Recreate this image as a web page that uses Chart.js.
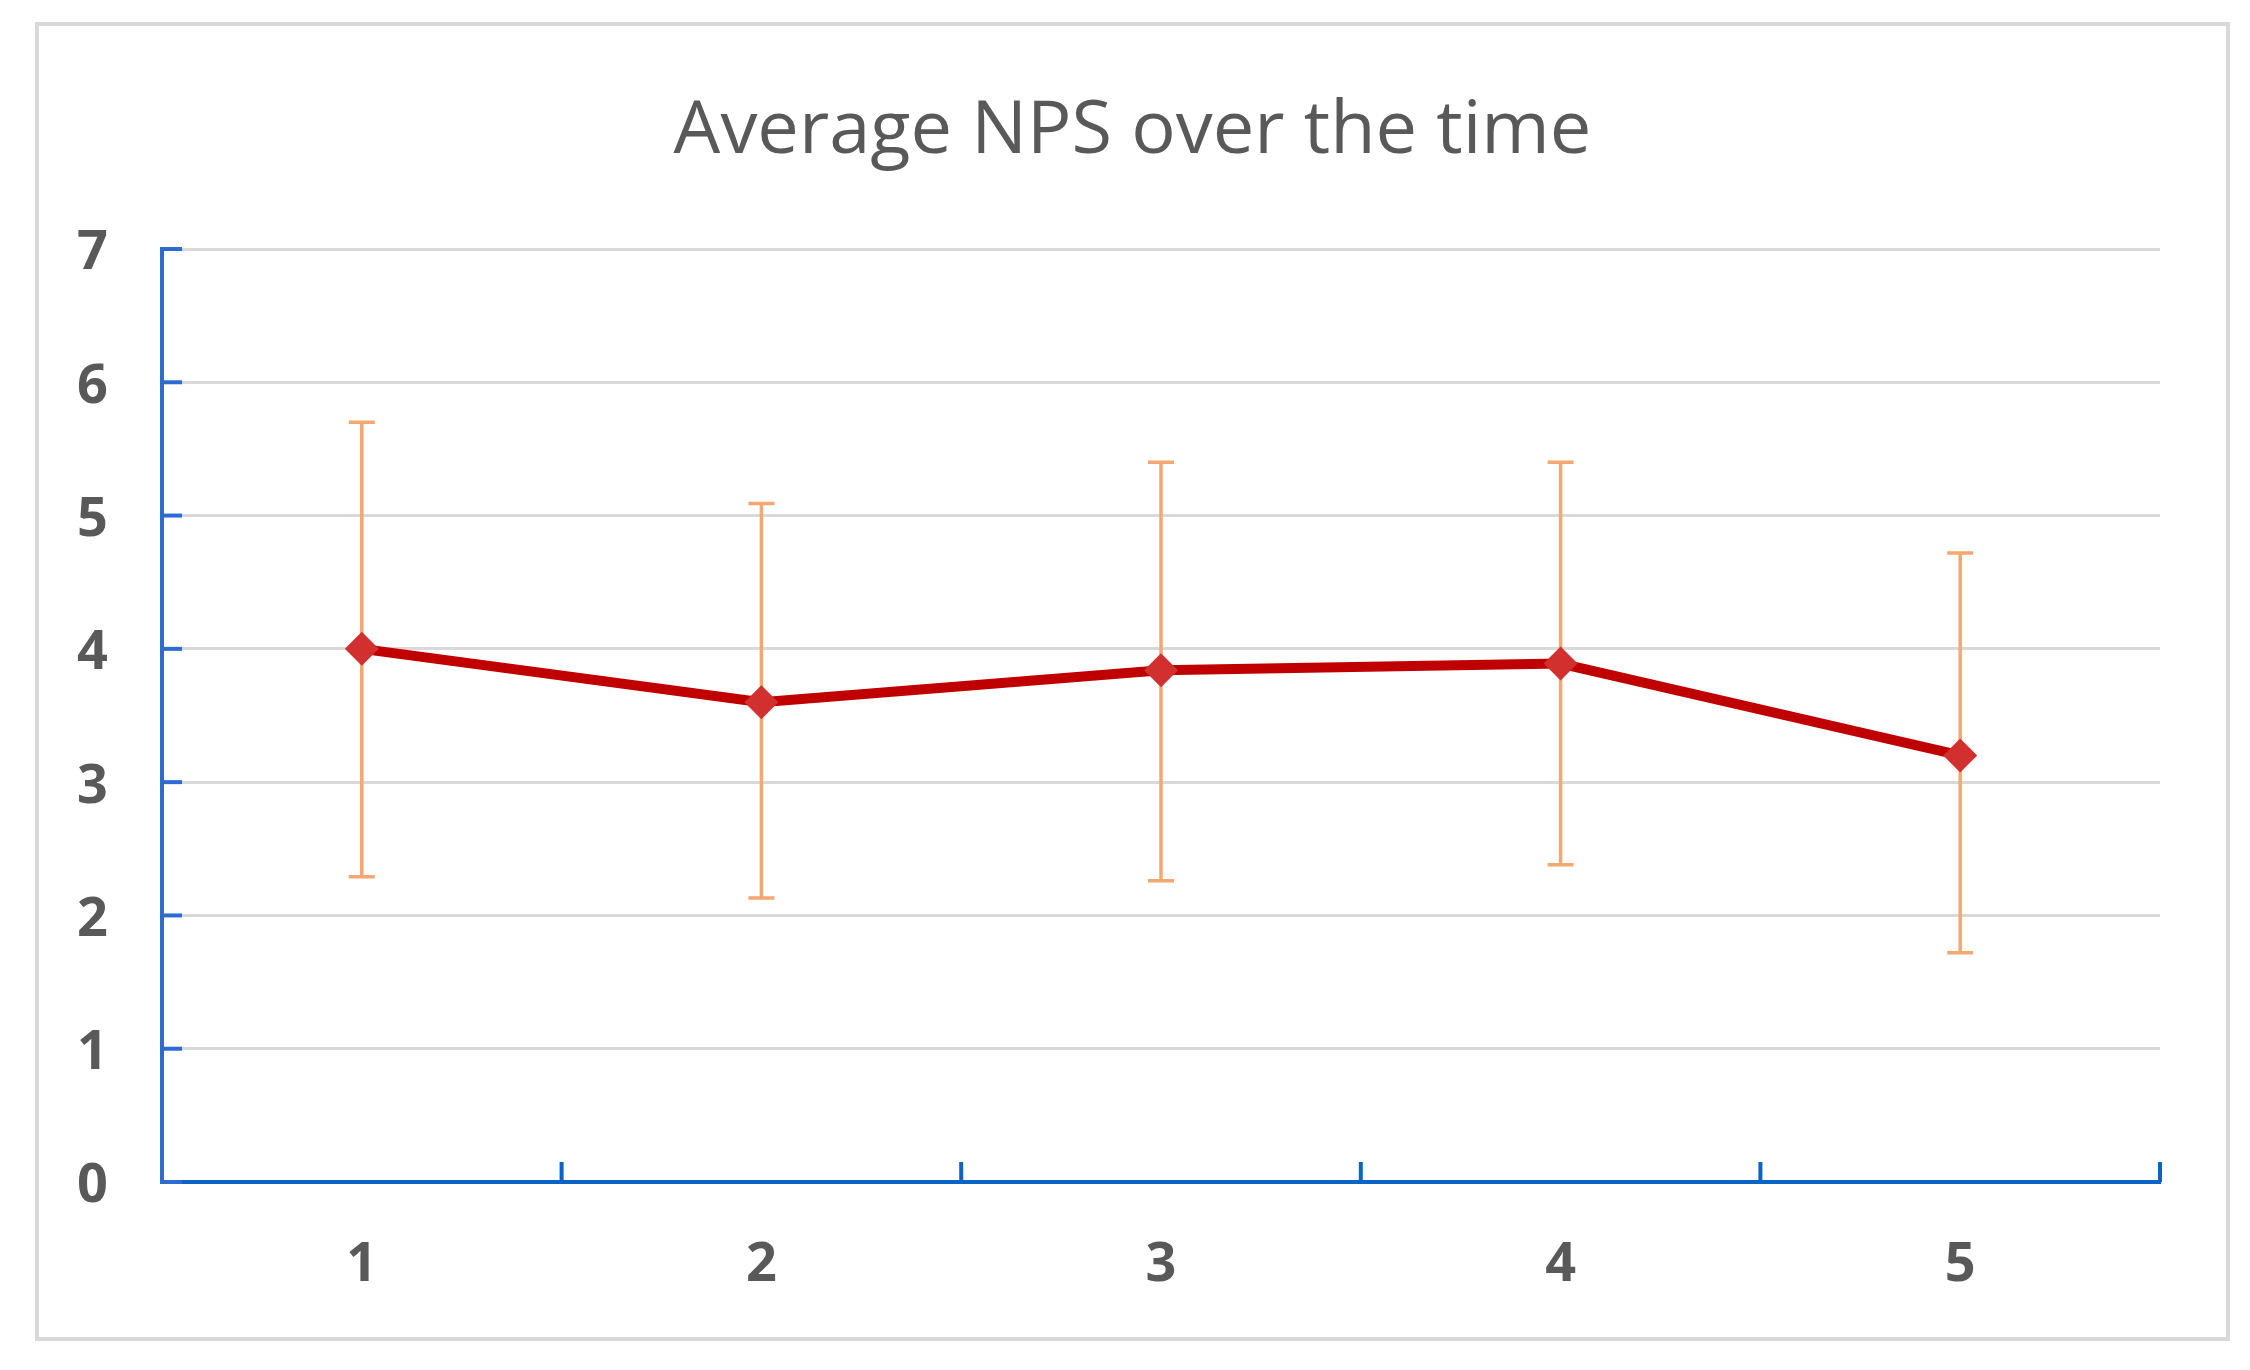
<!DOCTYPE html>
<html>
<head>
<meta charset="utf-8">
<script src="https://cdn.jsdelivr.net/npm/chart.js@4/dist/chart.umd.min.js"></script>
<style>
  html, body { margin: 0; padding: 0; background: #ffffff; }
  #wrap { width: 2250px; height: 1370px; }
</style>
</head>
<body>
<div id="wrap"><canvas id="c" width="2250" height="1370"></canvas></div>
<script>
const categories = ['1', '2', '3', '4', '5'];
const npsValues = [4.00, 3.60, 3.84, 3.89, 3.20];
const errorUpper = [5.70, 5.09, 5.40, 5.40, 4.72];
const errorLower = [2.29, 2.13, 2.26, 2.38, 1.72];
const yTicks = [0, 1, 2, 3, 4, 5, 6, 7];
const chartTitle = 'Average NPS over the time';

const frameBorder = {
  id: 'frameBorder',
  beforeDraw(chart) {
    const ctx = chart.ctx;
    ctx.save();
    ctx.fillStyle = '#ffffff';
    ctx.fillRect(0, 0, chart.width, chart.height);
    ctx.strokeStyle = '#d9d9d9';
    ctx.lineWidth = 4;
    ctx.strokeRect(37, 24, 2191, 1315);
    ctx.restore();
  }
};

const errorBars = {
  id: 'errorBars',
  beforeDatasetsDraw(chart) {
    const ctx = chart.ctx;
    const meta = chart.getDatasetMeta(0);
    const ys = chart.scales.y;
    ctx.save();
    ctx.strokeStyle = '#F4A770';
    ctx.lineWidth = 3.5;
    meta.data.forEach((pt, i) => {
      const x = pt.x;
      const yt = ys.getPixelForValue(errorUpper[i]);
      const yb = ys.getPixelForValue(errorLower[i]);
      ctx.beginPath();
      ctx.moveTo(x, yt); ctx.lineTo(x, yb);
      ctx.moveTo(x - 13, yt); ctx.lineTo(x + 13, yt);
      ctx.moveTo(x - 13, yb); ctx.lineTo(x + 13, yb);
      ctx.stroke();
    });
    ctx.restore();
  }
};

const innerTicks = {
  id: 'innerTicks',
  afterDatasetsDraw(chart) {
    const ctx = chart.ctx;
    const xs = chart.scales.x, ys = chart.scales.y;
    const area = chart.chartArea;
    ctx.save();
    ctx.lineWidth = 4;
    ctx.strokeStyle = '#2E6BD0';
    ys.ticks.forEach(t => {
      const y = ys.getPixelForValue(t.value);
      ctx.beginPath();
      ctx.moveTo(area.left, y); ctx.lineTo(area.left + 20, y);
      ctx.stroke();
    });
    ctx.strokeStyle = '#0B63C6';
    const step = xs.getPixelForValue(1) - xs.getPixelForValue(0);
    categories.forEach((c, i) => {
      const x = xs.getPixelForValue(i) + step / 2;
      ctx.beginPath();
      ctx.moveTo(x, area.bottom); ctx.lineTo(x, area.bottom - 20);
      ctx.stroke();
    });
    ctx.restore();
  }
};

new Chart(document.getElementById('c'), {
  type: 'line',
  data: {
    labels: categories,
    datasets: [{
      label: 'Average NPS',
      data: npsValues,
      borderColor: '#C00000',
      borderWidth: 10,
      backgroundColor: '#D2302F',
      pointStyle: 'rectRot',
      pointRadius: 17,
      pointBorderWidth: 0,
      pointBackgroundColor: '#D2302F',
      tension: 0,
      fill: false
    }]
  },
  options: {
    responsive: false,
    animation: false,
    devicePixelRatio: 1,
    layout: { padding: { left: 37, right: 22, top: 24, bottom: 31 } },
    plugins: {
      legend: { display: false },
      tooltip: { enabled: false },
      title: {
        display: true,
        text: chartTitle,
        color: '#595959',
        font: { family: "'Open Sans', 'Noto Sans', sans-serif", size: 74, weight: 'normal', lineHeight: 1.2 },
        padding: { top: 64, bottom: 72.2 }
      }
    },
    scales: {
      x: {
        type: 'category',
        offset: true,
        grid: { display: false, drawTicks: false },
        border: { display: true, color: '#0B63C6', width: 4 },
        ticks: {
          color: '#595959',
          padding: 51,
          font: { family: "'Open Sans', 'Noto Sans', sans-serif", size: 54, weight: 'bold' }
        },
        afterFit(scale) { scale.height = 157; }
      },
      y: {
        type: 'linear',
        position: 'left',
        min: 0,
        max: 7,
        afterBuildTicks(scale) { scale.ticks = yTicks.map(v => ({ value: v })); },
        grid: { color: '#d9d9d9', lineWidth: 3, drawTicks: false },
        border: { display: true, color: '#2E6BD0', width: 4 },
        ticks: {
          color: '#595959',
          padding: 54,
          labelOffset: 5,
          font: { family: "'Open Sans', 'Noto Sans', sans-serif", size: 54, weight: 'bold' }
        },
        afterFit(scale) { scale.width = 125; }
      },
      yR: {
        type: 'linear',
        position: 'right',
        display: true,
        min: 0,
        max: 7,
        grid: { display: false, drawTicks: false },
        border: { display: false },
        ticks: { display: false },
        afterFit(scale) { scale.width = 68; }
      }
    }
  },
  plugins: [frameBorder, errorBars, innerTicks]
});
</script>
</body>
</html>
